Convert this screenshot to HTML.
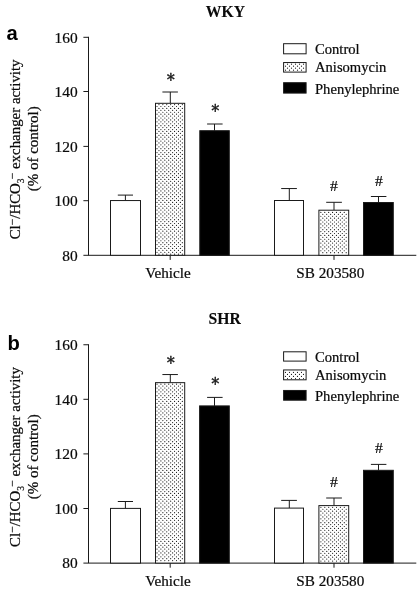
<!DOCTYPE html>
<html><head><meta charset="utf-8"><title>Cl-/HCO3- exchanger activity</title>
<style>
html,body{margin:0;padding:0;background:#fff;}
svg{display:block;will-change:transform;}
.t{font-family:"Liberation Serif","Times New Roman",serif;font-size:14.6px;fill:#0a0a0a;stroke:#0a0a0a;stroke-width:0.22px;}
.tk{font-size:15.4px;}
.xl{font-size:15.2px;}
.b{font-weight:bold;font-size:15.7px;stroke-width:0.1px;}
.lab{font-family:"Liberation Sans",Arial,sans-serif;font-weight:bold;font-size:20.2px;fill:#000;}
.ast{font-family:"DejaVu Serif","Liberation Serif",serif;fill:#111;stroke:#111;stroke-width:0.4px;}
.ln{stroke:#1a1a1a;stroke-width:1;}
path.ln{fill:none;}
.dots{stroke:#222;stroke-width:1.22;stroke-linecap:round;fill:none;}
.sup{font-size:11.5px;}
.sub{font-size:9.5px;}
.y1{font-size:14.9px;}
.y2{font-size:15px;}
.sym{font-size:15.6px;}
</style></head>
<body>
<svg width="420" height="592" viewBox="0 0 420 592">
<rect width="420" height="592" fill="#fff"/>
<g>
<text x="225.4" y="16.50" class="t b" text-anchor="middle">WKY</text>
<text x="6.5" y="39.80" class="lab">a</text>
<path class="ln" d="M88.5 36.80V255.30M83.4 255.30H416.3"/>
<text x="77.6" y="260.60" class="t tk" text-anchor="end">80</text>
<path class="ln" d="M83.4 200.70H88.5"/>
<text x="77.6" y="206.00" class="t tk" text-anchor="end">100</text>
<path class="ln" d="M83.4 146.40H88.5"/>
<text x="77.6" y="151.70" class="t tk" text-anchor="end">120</text>
<path class="ln" d="M83.4 91.50H88.5"/>
<text x="77.6" y="96.80" class="t tk" text-anchor="end">140</text>
<path class="ln" d="M83.4 37.30H88.5"/>
<text x="77.6" y="42.60" class="t tk" text-anchor="end">160</text>
<path class="ln" d="M170.2 255.30V259.90"/>
<path class="ln" d="M334.0 255.30V259.90"/>
<text x="167.9" y="278.20" class="t xl" text-anchor="middle">Vehicle</text>
<text x="330.3" y="278.20" class="t xl" text-anchor="middle">SB 203580</text>
<path class="ln" d="M125.4 200.55V195.10M117.8 195.10H133.0"/>
<rect class="ln" x="110.50" y="200.55" width="30.00" height="54.75" fill="#fff"/>
<path class="ln" d="M170.3 103.30V92.00M162.4 92.00H177.9"/>
<rect class="ln" x="155.50" y="103.30" width="29.20" height="152.00" fill="#fff"/>
<path class="ln" d="M214.5 130.70V124.00M207.1 124.00H222.6"/>
<rect class="ln" x="199.80" y="130.70" width="29.50" height="124.60" fill="#000"/>
<path class="ln" d="M289.3 200.50V188.55M281.2 188.55H296.9"/>
<rect class="ln" x="274.50" y="200.50" width="29.00" height="54.80" fill="#fff"/>
<path class="ln" d="M334.0 210.20V202.30M326.2 202.30H341.9"/>
<rect class="ln" x="318.90" y="210.20" width="29.80" height="45.10" fill="#fff"/>
<path class="ln" d="M378.5 202.50V196.50M370.9 196.50H386.4"/>
<rect class="ln" x="363.50" y="202.50" width="29.80" height="52.80" fill="#000"/>
<text transform="translate(170.7 86.05) scale(0.88 1)" class="ast" font-size="17.4" text-anchor="middle">*</text>
<text transform="translate(215.2 117.05) scale(0.88 1)" class="ast" font-size="17.4" text-anchor="middle">*</text>
<text x="334" y="190.85" class="t sym" text-anchor="middle">#</text>
<text x="378.9" y="185.95" class="t sym" text-anchor="middle">#</text>
<rect class="ln" x="283.6" y="43.70" width="22.5" height="10.10" fill="#fff"/>
<text x="315" y="54.40" class="t">Control</text>
<rect class="ln" x="283.6" y="62.55" width="22.5" height="9.55" fill="#fff"/>
<text x="315" y="72.40" class="t">Anisomycin</text>
<rect class="ln" x="283.6" y="82.70" width="22.5" height="10.40" fill="#000"/>
<text x="315" y="93.70" class="t">Phenylephrine</text>
<text transform="translate(19.6 149.40) rotate(-90)" class="t y1" text-anchor="middle">Cl<tspan class="sup" dy="-3.9">−</tspan><tspan dy="3.9">/HCO</tspan><tspan class="sub" dy="4">3</tspan><tspan class="sup" dx="-0.8" dy="-7.4">−</tspan><tspan dy="3.4"> exchanger activity</tspan></text>
<text transform="translate(37.7 148.85) rotate(-90)" class="t y2" text-anchor="middle">(% of control)</text>
</g>
<g>
<text x="224.7" y="324.00" class="t b" text-anchor="middle">SHR</text>
<text x="7.4" y="349.90" class="lab">b</text>
<path class="ln" d="M88.5 344.26V563.10M83.4 563.10H416.3"/>
<text x="77.6" y="568.40" class="t tk" text-anchor="end">80</text>
<path class="ln" d="M83.4 508.50H88.5"/>
<text x="77.6" y="513.80" class="t tk" text-anchor="end">100</text>
<path class="ln" d="M83.4 453.90H88.5"/>
<text x="77.6" y="459.20" class="t tk" text-anchor="end">120</text>
<path class="ln" d="M83.4 399.30H88.5"/>
<text x="77.6" y="404.60" class="t tk" text-anchor="end">140</text>
<path class="ln" d="M83.4 344.76H88.5"/>
<text x="77.6" y="350.06" class="t tk" text-anchor="end">160</text>
<path class="ln" d="M170.2 563.10V567.70"/>
<path class="ln" d="M334.0 563.10V567.70"/>
<text x="167.9" y="585.90" class="t xl" text-anchor="middle">Vehicle</text>
<text x="330.3" y="585.90" class="t xl" text-anchor="middle">SB 203580</text>
<path class="ln" d="M125.4 508.40V501.50M117.8 501.50H133.0"/>
<rect class="ln" x="110.50" y="508.40" width="30.00" height="54.70" fill="#fff"/>
<path class="ln" d="M170.3 382.65V374.55M162.4 374.55H177.9"/>
<rect class="ln" x="155.50" y="382.65" width="29.20" height="180.45" fill="#fff"/>
<path class="ln" d="M214.5 405.90V397.40M207.1 397.40H222.6"/>
<rect class="ln" x="199.60" y="405.90" width="29.70" height="157.20" fill="#000"/>
<path class="ln" d="M289.3 508.10V500.40M281.2 500.40H296.9"/>
<rect class="ln" x="274.50" y="508.10" width="29.00" height="55.00" fill="#fff"/>
<path class="ln" d="M334.0 505.60V498.00M326.2 498.00H341.9"/>
<rect class="ln" x="318.90" y="505.60" width="29.80" height="57.50" fill="#fff"/>
<path class="ln" d="M378.5 470.30V464.40M370.9 464.40H386.4"/>
<rect class="ln" x="363.50" y="470.30" width="29.80" height="92.80" fill="#000"/>
<text transform="translate(170.7 368.95) scale(0.88 1)" class="ast" font-size="17.4" text-anchor="middle">*</text>
<text transform="translate(215.2 390.25) scale(0.88 1)" class="ast" font-size="17.4" text-anchor="middle">*</text>
<text x="334" y="486.85" class="t sym" text-anchor="middle">#</text>
<text x="379" y="453.15" class="t sym" text-anchor="middle">#</text>
<rect class="ln" x="283.6" y="351.80" width="22.5" height="9.30" fill="#fff"/>
<text x="315" y="361.70" class="t">Control</text>
<rect class="ln" x="283.6" y="369.95" width="22.5" height="9.85" fill="#fff"/>
<text x="315" y="380.40" class="t">Anisomycin</text>
<rect class="ln" x="283.6" y="390.45" width="22.5" height="9.75" fill="#000"/>
<text x="315" y="400.70" class="t">Phenylephrine</text>
<text transform="translate(19.6 457.00) rotate(-90)" class="t y1" text-anchor="middle">Cl<tspan class="sup" dy="-3.9">−</tspan><tspan dy="3.9">/HCO</tspan><tspan class="sub" dy="4">3</tspan><tspan class="sup" dx="-0.8" dy="-7.4">−</tspan><tspan dy="3.4"> exchanger activity</tspan></text>
<text transform="translate(37.7 456.75) rotate(-90)" class="t y2" text-anchor="middle">(% of control)</text>
</g>
<path class="dots" d="M158.95 104.58h.01M162.85 104.58h.01M166.75 104.58h.01M170.65 104.58h.01M174.55 104.58h.01M178.45 104.58h.01M182.35 104.58h.01M157.00 106.50h.01M160.90 106.50h.01M164.80 106.50h.01M168.70 106.50h.01M172.60 106.50h.01M176.50 106.50h.01M180.40 106.50h.01M158.95 108.42h.01M162.85 108.42h.01M166.75 108.42h.01M170.65 108.42h.01M174.55 108.42h.01M178.45 108.42h.01M182.35 108.42h.01M157.00 110.34h.01M160.90 110.34h.01M164.80 110.34h.01M168.70 110.34h.01M172.60 110.34h.01M176.50 110.34h.01M180.40 110.34h.01M158.95 112.25h.01M162.85 112.25h.01M166.75 112.25h.01M170.65 112.25h.01M174.55 112.25h.01M178.45 112.25h.01M182.35 112.25h.01M157.00 114.17h.01M160.90 114.17h.01M164.80 114.17h.01M168.70 114.17h.01M172.60 114.17h.01M176.50 114.17h.01M180.40 114.17h.01M158.95 116.09h.01M162.85 116.09h.01M166.75 116.09h.01M170.65 116.09h.01M174.55 116.09h.01M178.45 116.09h.01M182.35 116.09h.01M157.00 118.01h.01M160.90 118.01h.01M164.80 118.01h.01M168.70 118.01h.01M172.60 118.01h.01M176.50 118.01h.01M180.40 118.01h.01M158.95 119.93h.01M162.85 119.93h.01M166.75 119.93h.01M170.65 119.93h.01M174.55 119.93h.01M178.45 119.93h.01M182.35 119.93h.01M157.00 121.84h.01M160.90 121.84h.01M164.80 121.84h.01M168.70 121.84h.01M172.60 121.84h.01M176.50 121.84h.01M180.40 121.84h.01M158.95 123.76h.01M162.85 123.76h.01M166.75 123.76h.01M170.65 123.76h.01M174.55 123.76h.01M178.45 123.76h.01M182.35 123.76h.01M157.00 125.68h.01M160.90 125.68h.01M164.80 125.68h.01M168.70 125.68h.01M172.60 125.68h.01M176.50 125.68h.01M180.40 125.68h.01M158.95 127.60h.01M162.85 127.60h.01M166.75 127.60h.01M170.65 127.60h.01M174.55 127.60h.01M178.45 127.60h.01M182.35 127.60h.01M157.00 129.52h.01M160.90 129.52h.01M164.80 129.52h.01M168.70 129.52h.01M172.60 129.52h.01M176.50 129.52h.01M180.40 129.52h.01M158.95 131.43h.01M162.85 131.43h.01M166.75 131.43h.01M170.65 131.43h.01M174.55 131.43h.01M178.45 131.43h.01M182.35 131.43h.01M157.00 133.35h.01M160.90 133.35h.01M164.80 133.35h.01M168.70 133.35h.01M172.60 133.35h.01M176.50 133.35h.01M180.40 133.35h.01M158.95 135.27h.01M162.85 135.27h.01M166.75 135.27h.01M170.65 135.27h.01M174.55 135.27h.01M178.45 135.27h.01M182.35 135.27h.01M157.00 137.19h.01M160.90 137.19h.01M164.80 137.19h.01M168.70 137.19h.01M172.60 137.19h.01M176.50 137.19h.01M180.40 137.19h.01M158.95 139.11h.01M162.85 139.11h.01M166.75 139.11h.01M170.65 139.11h.01M174.55 139.11h.01M178.45 139.11h.01M182.35 139.11h.01M157.00 141.02h.01M160.90 141.02h.01M164.80 141.02h.01M168.70 141.02h.01M172.60 141.02h.01M176.50 141.02h.01M180.40 141.02h.01M158.95 142.94h.01M162.85 142.94h.01M166.75 142.94h.01M170.65 142.94h.01M174.55 142.94h.01M178.45 142.94h.01M182.35 142.94h.01M157.00 144.86h.01M160.90 144.86h.01M164.80 144.86h.01M168.70 144.86h.01M172.60 144.86h.01M176.50 144.86h.01M180.40 144.86h.01M158.95 146.78h.01M162.85 146.78h.01M166.75 146.78h.01M170.65 146.78h.01M174.55 146.78h.01M178.45 146.78h.01M182.35 146.78h.01M157.00 148.70h.01M160.90 148.70h.01M164.80 148.70h.01M168.70 148.70h.01M172.60 148.70h.01M176.50 148.70h.01M180.40 148.70h.01M158.95 150.61h.01M162.85 150.61h.01M166.75 150.61h.01M170.65 150.61h.01M174.55 150.61h.01M178.45 150.61h.01M182.35 150.61h.01M157.00 152.53h.01M160.90 152.53h.01M164.80 152.53h.01M168.70 152.53h.01M172.60 152.53h.01M176.50 152.53h.01M180.40 152.53h.01M158.95 154.45h.01M162.85 154.45h.01M166.75 154.45h.01M170.65 154.45h.01M174.55 154.45h.01M178.45 154.45h.01M182.35 154.45h.01M157.00 156.37h.01M160.90 156.37h.01M164.80 156.37h.01M168.70 156.37h.01M172.60 156.37h.01M176.50 156.37h.01M180.40 156.37h.01M158.95 158.29h.01M162.85 158.29h.01M166.75 158.29h.01M170.65 158.29h.01M174.55 158.29h.01M178.45 158.29h.01M182.35 158.29h.01M157.00 160.20h.01M160.90 160.20h.01M164.80 160.20h.01M168.70 160.20h.01M172.60 160.20h.01M176.50 160.20h.01M180.40 160.20h.01M158.95 162.12h.01M162.85 162.12h.01M166.75 162.12h.01M170.65 162.12h.01M174.55 162.12h.01M178.45 162.12h.01M182.35 162.12h.01M157.00 164.04h.01M160.90 164.04h.01M164.80 164.04h.01M168.70 164.04h.01M172.60 164.04h.01M176.50 164.04h.01M180.40 164.04h.01M158.95 165.96h.01M162.85 165.96h.01M166.75 165.96h.01M170.65 165.96h.01M174.55 165.96h.01M178.45 165.96h.01M182.35 165.96h.01M157.00 167.88h.01M160.90 167.88h.01M164.80 167.88h.01M168.70 167.88h.01M172.60 167.88h.01M176.50 167.88h.01M180.40 167.88h.01M158.95 169.79h.01M162.85 169.79h.01M166.75 169.79h.01M170.65 169.79h.01M174.55 169.79h.01M178.45 169.79h.01M182.35 169.79h.01M157.00 171.71h.01M160.90 171.71h.01M164.80 171.71h.01M168.70 171.71h.01M172.60 171.71h.01M176.50 171.71h.01M180.40 171.71h.01M158.95 173.63h.01M162.85 173.63h.01M166.75 173.63h.01M170.65 173.63h.01M174.55 173.63h.01M178.45 173.63h.01M182.35 173.63h.01M157.00 175.55h.01M160.90 175.55h.01M164.80 175.55h.01M168.70 175.55h.01M172.60 175.55h.01M176.50 175.55h.01M180.40 175.55h.01M158.95 177.47h.01M162.85 177.47h.01M166.75 177.47h.01M170.65 177.47h.01M174.55 177.47h.01M178.45 177.47h.01M182.35 177.47h.01M157.00 179.38h.01M160.90 179.38h.01M164.80 179.38h.01M168.70 179.38h.01M172.60 179.38h.01M176.50 179.38h.01M180.40 179.38h.01M158.95 181.30h.01M162.85 181.30h.01M166.75 181.30h.01M170.65 181.30h.01M174.55 181.30h.01M178.45 181.30h.01M182.35 181.30h.01M157.00 183.22h.01M160.90 183.22h.01M164.80 183.22h.01M168.70 183.22h.01M172.60 183.22h.01M176.50 183.22h.01M180.40 183.22h.01M158.95 185.14h.01M162.85 185.14h.01M166.75 185.14h.01M170.65 185.14h.01M174.55 185.14h.01M178.45 185.14h.01M182.35 185.14h.01M157.00 187.06h.01M160.90 187.06h.01M164.80 187.06h.01M168.70 187.06h.01M172.60 187.06h.01M176.50 187.06h.01M180.40 187.06h.01M158.95 188.97h.01M162.85 188.97h.01M166.75 188.97h.01M170.65 188.97h.01M174.55 188.97h.01M178.45 188.97h.01M182.35 188.97h.01M157.00 190.89h.01M160.90 190.89h.01M164.80 190.89h.01M168.70 190.89h.01M172.60 190.89h.01M176.50 190.89h.01M180.40 190.89h.01M158.95 192.81h.01M162.85 192.81h.01M166.75 192.81h.01M170.65 192.81h.01M174.55 192.81h.01M178.45 192.81h.01M182.35 192.81h.01M157.00 194.73h.01M160.90 194.73h.01M164.80 194.73h.01M168.70 194.73h.01M172.60 194.73h.01M176.50 194.73h.01M180.40 194.73h.01M158.95 196.65h.01M162.85 196.65h.01M166.75 196.65h.01M170.65 196.65h.01M174.55 196.65h.01M178.45 196.65h.01M182.35 196.65h.01M157.00 198.56h.01M160.90 198.56h.01M164.80 198.56h.01M168.70 198.56h.01M172.60 198.56h.01M176.50 198.56h.01M180.40 198.56h.01M158.95 200.48h.01M162.85 200.48h.01M166.75 200.48h.01M170.65 200.48h.01M174.55 200.48h.01M178.45 200.48h.01M182.35 200.48h.01M157.00 202.40h.01M160.90 202.40h.01M164.80 202.40h.01M168.70 202.40h.01M172.60 202.40h.01M176.50 202.40h.01M180.40 202.40h.01M158.95 204.32h.01M162.85 204.32h.01M166.75 204.32h.01M170.65 204.32h.01M174.55 204.32h.01M178.45 204.32h.01M182.35 204.32h.01M157.00 206.24h.01M160.90 206.24h.01M164.80 206.24h.01M168.70 206.24h.01M172.60 206.24h.01M176.50 206.24h.01M180.40 206.24h.01M158.95 208.15h.01M162.85 208.15h.01M166.75 208.15h.01M170.65 208.15h.01M174.55 208.15h.01M178.45 208.15h.01M182.35 208.15h.01M157.00 210.07h.01M160.90 210.07h.01M164.80 210.07h.01M168.70 210.07h.01M172.60 210.07h.01M176.50 210.07h.01M180.40 210.07h.01M158.95 211.99h.01M162.85 211.99h.01M166.75 211.99h.01M170.65 211.99h.01M174.55 211.99h.01M178.45 211.99h.01M182.35 211.99h.01M157.00 213.91h.01M160.90 213.91h.01M164.80 213.91h.01M168.70 213.91h.01M172.60 213.91h.01M176.50 213.91h.01M180.40 213.91h.01M158.95 215.83h.01M162.85 215.83h.01M166.75 215.83h.01M170.65 215.83h.01M174.55 215.83h.01M178.45 215.83h.01M182.35 215.83h.01M157.00 217.74h.01M160.90 217.74h.01M164.80 217.74h.01M168.70 217.74h.01M172.60 217.74h.01M176.50 217.74h.01M180.40 217.74h.01M158.95 219.66h.01M162.85 219.66h.01M166.75 219.66h.01M170.65 219.66h.01M174.55 219.66h.01M178.45 219.66h.01M182.35 219.66h.01M157.00 221.58h.01M160.90 221.58h.01M164.80 221.58h.01M168.70 221.58h.01M172.60 221.58h.01M176.50 221.58h.01M180.40 221.58h.01M158.95 223.50h.01M162.85 223.50h.01M166.75 223.50h.01M170.65 223.50h.01M174.55 223.50h.01M178.45 223.50h.01M182.35 223.50h.01M157.00 225.42h.01M160.90 225.42h.01M164.80 225.42h.01M168.70 225.42h.01M172.60 225.42h.01M176.50 225.42h.01M180.40 225.42h.01M158.95 227.33h.01M162.85 227.33h.01M166.75 227.33h.01M170.65 227.33h.01M174.55 227.33h.01M178.45 227.33h.01M182.35 227.33h.01M157.00 229.25h.01M160.90 229.25h.01M164.80 229.25h.01M168.70 229.25h.01M172.60 229.25h.01M176.50 229.25h.01M180.40 229.25h.01M158.95 231.17h.01M162.85 231.17h.01M166.75 231.17h.01M170.65 231.17h.01M174.55 231.17h.01M178.45 231.17h.01M182.35 231.17h.01M157.00 233.09h.01M160.90 233.09h.01M164.80 233.09h.01M168.70 233.09h.01M172.60 233.09h.01M176.50 233.09h.01M180.40 233.09h.01M158.95 235.01h.01M162.85 235.01h.01M166.75 235.01h.01M170.65 235.01h.01M174.55 235.01h.01M178.45 235.01h.01M182.35 235.01h.01M157.00 236.92h.01M160.90 236.92h.01M164.80 236.92h.01M168.70 236.92h.01M172.60 236.92h.01M176.50 236.92h.01M180.40 236.92h.01M158.95 238.84h.01M162.85 238.84h.01M166.75 238.84h.01M170.65 238.84h.01M174.55 238.84h.01M178.45 238.84h.01M182.35 238.84h.01M157.00 240.76h.01M160.90 240.76h.01M164.80 240.76h.01M168.70 240.76h.01M172.60 240.76h.01M176.50 240.76h.01M180.40 240.76h.01M158.95 242.68h.01M162.85 242.68h.01M166.75 242.68h.01M170.65 242.68h.01M174.55 242.68h.01M178.45 242.68h.01M182.35 242.68h.01M157.00 244.60h.01M160.90 244.60h.01M164.80 244.60h.01M168.70 244.60h.01M172.60 244.60h.01M176.50 244.60h.01M180.40 244.60h.01M158.95 246.51h.01M162.85 246.51h.01M166.75 246.51h.01M170.65 246.51h.01M174.55 246.51h.01M178.45 246.51h.01M182.35 246.51h.01M157.00 248.43h.01M160.90 248.43h.01M164.80 248.43h.01M168.70 248.43h.01M172.60 248.43h.01M176.50 248.43h.01M180.40 248.43h.01M158.95 250.35h.01M162.85 250.35h.01M166.75 250.35h.01M170.65 250.35h.01M174.55 250.35h.01M178.45 250.35h.01M182.35 250.35h.01M157.00 252.27h.01M160.90 252.27h.01M164.80 252.27h.01M168.70 252.27h.01M172.60 252.27h.01M176.50 252.27h.01M180.40 252.27h.01M158.95 254.19h.01M162.85 254.19h.01M166.75 254.19h.01M170.65 254.19h.01M174.55 254.19h.01M178.45 254.19h.01M182.35 254.19h.01M320.85 212.40h.01M324.75 212.40h.01M328.65 212.40h.01M332.55 212.40h.01M336.45 212.40h.01M340.35 212.40h.01M344.25 212.40h.01M322.80 214.32h.01M326.70 214.32h.01M330.60 214.32h.01M334.50 214.32h.01M338.40 214.32h.01M342.30 214.32h.01M346.20 214.32h.01M320.85 216.24h.01M324.75 216.24h.01M328.65 216.24h.01M332.55 216.24h.01M336.45 216.24h.01M340.35 216.24h.01M344.25 216.24h.01M322.80 218.16h.01M326.70 218.16h.01M330.60 218.16h.01M334.50 218.16h.01M338.40 218.16h.01M342.30 218.16h.01M346.20 218.16h.01M320.85 220.07h.01M324.75 220.07h.01M328.65 220.07h.01M332.55 220.07h.01M336.45 220.07h.01M340.35 220.07h.01M344.25 220.07h.01M322.80 221.99h.01M326.70 221.99h.01M330.60 221.99h.01M334.50 221.99h.01M338.40 221.99h.01M342.30 221.99h.01M346.20 221.99h.01M320.85 223.91h.01M324.75 223.91h.01M328.65 223.91h.01M332.55 223.91h.01M336.45 223.91h.01M340.35 223.91h.01M344.25 223.91h.01M322.80 225.83h.01M326.70 225.83h.01M330.60 225.83h.01M334.50 225.83h.01M338.40 225.83h.01M342.30 225.83h.01M346.20 225.83h.01M320.85 227.75h.01M324.75 227.75h.01M328.65 227.75h.01M332.55 227.75h.01M336.45 227.75h.01M340.35 227.75h.01M344.25 227.75h.01M322.80 229.66h.01M326.70 229.66h.01M330.60 229.66h.01M334.50 229.66h.01M338.40 229.66h.01M342.30 229.66h.01M346.20 229.66h.01M320.85 231.58h.01M324.75 231.58h.01M328.65 231.58h.01M332.55 231.58h.01M336.45 231.58h.01M340.35 231.58h.01M344.25 231.58h.01M322.80 233.50h.01M326.70 233.50h.01M330.60 233.50h.01M334.50 233.50h.01M338.40 233.50h.01M342.30 233.50h.01M346.20 233.50h.01M320.85 235.42h.01M324.75 235.42h.01M328.65 235.42h.01M332.55 235.42h.01M336.45 235.42h.01M340.35 235.42h.01M344.25 235.42h.01M322.80 237.34h.01M326.70 237.34h.01M330.60 237.34h.01M334.50 237.34h.01M338.40 237.34h.01M342.30 237.34h.01M346.20 237.34h.01M320.85 239.25h.01M324.75 239.25h.01M328.65 239.25h.01M332.55 239.25h.01M336.45 239.25h.01M340.35 239.25h.01M344.25 239.25h.01M322.80 241.17h.01M326.70 241.17h.01M330.60 241.17h.01M334.50 241.17h.01M338.40 241.17h.01M342.30 241.17h.01M346.20 241.17h.01M320.85 243.09h.01M324.75 243.09h.01M328.65 243.09h.01M332.55 243.09h.01M336.45 243.09h.01M340.35 243.09h.01M344.25 243.09h.01M322.80 245.01h.01M326.70 245.01h.01M330.60 245.01h.01M334.50 245.01h.01M338.40 245.01h.01M342.30 245.01h.01M346.20 245.01h.01M320.85 246.93h.01M324.75 246.93h.01M328.65 246.93h.01M332.55 246.93h.01M336.45 246.93h.01M340.35 246.93h.01M344.25 246.93h.01M322.80 248.84h.01M326.70 248.84h.01M330.60 248.84h.01M334.50 248.84h.01M338.40 248.84h.01M342.30 248.84h.01M346.20 248.84h.01M320.85 250.76h.01M324.75 250.76h.01M328.65 250.76h.01M332.55 250.76h.01M336.45 250.76h.01M340.35 250.76h.01M344.25 250.76h.01M322.80 252.68h.01M326.70 252.68h.01M330.60 252.68h.01M334.50 252.68h.01M338.40 252.68h.01M342.30 252.68h.01M346.20 252.68h.01M287.50 64.15h.01M291.50 64.15h.01M295.50 64.15h.01M299.50 64.15h.01M303.50 64.15h.01M285.50 66.15h.01M289.50 66.15h.01M293.50 66.15h.01M297.50 66.15h.01M301.50 66.15h.01M287.50 68.15h.01M291.50 68.15h.01M295.50 68.15h.01M299.50 68.15h.01M303.50 68.15h.01M285.50 70.15h.01M289.50 70.15h.01M293.50 70.15h.01M297.50 70.15h.01M301.50 70.15h.01M157.00 384.16h.01M160.90 384.16h.01M164.80 384.16h.01M168.70 384.16h.01M172.60 384.16h.01M176.50 384.16h.01M180.40 384.16h.01M158.95 386.07h.01M162.85 386.07h.01M166.75 386.07h.01M170.65 386.07h.01M174.55 386.07h.01M178.45 386.07h.01M182.35 386.07h.01M157.00 387.99h.01M160.90 387.99h.01M164.80 387.99h.01M168.70 387.99h.01M172.60 387.99h.01M176.50 387.99h.01M180.40 387.99h.01M158.95 389.91h.01M162.85 389.91h.01M166.75 389.91h.01M170.65 389.91h.01M174.55 389.91h.01M178.45 389.91h.01M182.35 389.91h.01M157.00 391.83h.01M160.90 391.83h.01M164.80 391.83h.01M168.70 391.83h.01M172.60 391.83h.01M176.50 391.83h.01M180.40 391.83h.01M158.95 393.75h.01M162.85 393.75h.01M166.75 393.75h.01M170.65 393.75h.01M174.55 393.75h.01M178.45 393.75h.01M182.35 393.75h.01M157.00 395.66h.01M160.90 395.66h.01M164.80 395.66h.01M168.70 395.66h.01M172.60 395.66h.01M176.50 395.66h.01M180.40 395.66h.01M158.95 397.58h.01M162.85 397.58h.01M166.75 397.58h.01M170.65 397.58h.01M174.55 397.58h.01M178.45 397.58h.01M182.35 397.58h.01M157.00 399.50h.01M160.90 399.50h.01M164.80 399.50h.01M168.70 399.50h.01M172.60 399.50h.01M176.50 399.50h.01M180.40 399.50h.01M158.95 401.42h.01M162.85 401.42h.01M166.75 401.42h.01M170.65 401.42h.01M174.55 401.42h.01M178.45 401.42h.01M182.35 401.42h.01M157.00 403.34h.01M160.90 403.34h.01M164.80 403.34h.01M168.70 403.34h.01M172.60 403.34h.01M176.50 403.34h.01M180.40 403.34h.01M158.95 405.25h.01M162.85 405.25h.01M166.75 405.25h.01M170.65 405.25h.01M174.55 405.25h.01M178.45 405.25h.01M182.35 405.25h.01M157.00 407.17h.01M160.90 407.17h.01M164.80 407.17h.01M168.70 407.17h.01M172.60 407.17h.01M176.50 407.17h.01M180.40 407.17h.01M158.95 409.09h.01M162.85 409.09h.01M166.75 409.09h.01M170.65 409.09h.01M174.55 409.09h.01M178.45 409.09h.01M182.35 409.09h.01M157.00 411.01h.01M160.90 411.01h.01M164.80 411.01h.01M168.70 411.01h.01M172.60 411.01h.01M176.50 411.01h.01M180.40 411.01h.01M158.95 412.93h.01M162.85 412.93h.01M166.75 412.93h.01M170.65 412.93h.01M174.55 412.93h.01M178.45 412.93h.01M182.35 412.93h.01M157.00 414.84h.01M160.90 414.84h.01M164.80 414.84h.01M168.70 414.84h.01M172.60 414.84h.01M176.50 414.84h.01M180.40 414.84h.01M158.95 416.76h.01M162.85 416.76h.01M166.75 416.76h.01M170.65 416.76h.01M174.55 416.76h.01M178.45 416.76h.01M182.35 416.76h.01M157.00 418.68h.01M160.90 418.68h.01M164.80 418.68h.01M168.70 418.68h.01M172.60 418.68h.01M176.50 418.68h.01M180.40 418.68h.01M158.95 420.60h.01M162.85 420.60h.01M166.75 420.60h.01M170.65 420.60h.01M174.55 420.60h.01M178.45 420.60h.01M182.35 420.60h.01M157.00 422.52h.01M160.90 422.52h.01M164.80 422.52h.01M168.70 422.52h.01M172.60 422.52h.01M176.50 422.52h.01M180.40 422.52h.01M158.95 424.43h.01M162.85 424.43h.01M166.75 424.43h.01M170.65 424.43h.01M174.55 424.43h.01M178.45 424.43h.01M182.35 424.43h.01M157.00 426.35h.01M160.90 426.35h.01M164.80 426.35h.01M168.70 426.35h.01M172.60 426.35h.01M176.50 426.35h.01M180.40 426.35h.01M158.95 428.27h.01M162.85 428.27h.01M166.75 428.27h.01M170.65 428.27h.01M174.55 428.27h.01M178.45 428.27h.01M182.35 428.27h.01M157.00 430.19h.01M160.90 430.19h.01M164.80 430.19h.01M168.70 430.19h.01M172.60 430.19h.01M176.50 430.19h.01M180.40 430.19h.01M158.95 432.11h.01M162.85 432.11h.01M166.75 432.11h.01M170.65 432.11h.01M174.55 432.11h.01M178.45 432.11h.01M182.35 432.11h.01M157.00 434.02h.01M160.90 434.02h.01M164.80 434.02h.01M168.70 434.02h.01M172.60 434.02h.01M176.50 434.02h.01M180.40 434.02h.01M158.95 435.94h.01M162.85 435.94h.01M166.75 435.94h.01M170.65 435.94h.01M174.55 435.94h.01M178.45 435.94h.01M182.35 435.94h.01M157.00 437.86h.01M160.90 437.86h.01M164.80 437.86h.01M168.70 437.86h.01M172.60 437.86h.01M176.50 437.86h.01M180.40 437.86h.01M158.95 439.78h.01M162.85 439.78h.01M166.75 439.78h.01M170.65 439.78h.01M174.55 439.78h.01M178.45 439.78h.01M182.35 439.78h.01M157.00 441.70h.01M160.90 441.70h.01M164.80 441.70h.01M168.70 441.70h.01M172.60 441.70h.01M176.50 441.70h.01M180.40 441.70h.01M158.95 443.61h.01M162.85 443.61h.01M166.75 443.61h.01M170.65 443.61h.01M174.55 443.61h.01M178.45 443.61h.01M182.35 443.61h.01M157.00 445.53h.01M160.90 445.53h.01M164.80 445.53h.01M168.70 445.53h.01M172.60 445.53h.01M176.50 445.53h.01M180.40 445.53h.01M158.95 447.45h.01M162.85 447.45h.01M166.75 447.45h.01M170.65 447.45h.01M174.55 447.45h.01M178.45 447.45h.01M182.35 447.45h.01M157.00 449.37h.01M160.90 449.37h.01M164.80 449.37h.01M168.70 449.37h.01M172.60 449.37h.01M176.50 449.37h.01M180.40 449.37h.01M158.95 451.29h.01M162.85 451.29h.01M166.75 451.29h.01M170.65 451.29h.01M174.55 451.29h.01M178.45 451.29h.01M182.35 451.29h.01M157.00 453.20h.01M160.90 453.20h.01M164.80 453.20h.01M168.70 453.20h.01M172.60 453.20h.01M176.50 453.20h.01M180.40 453.20h.01M158.95 455.12h.01M162.85 455.12h.01M166.75 455.12h.01M170.65 455.12h.01M174.55 455.12h.01M178.45 455.12h.01M182.35 455.12h.01M157.00 457.04h.01M160.90 457.04h.01M164.80 457.04h.01M168.70 457.04h.01M172.60 457.04h.01M176.50 457.04h.01M180.40 457.04h.01M158.95 458.96h.01M162.85 458.96h.01M166.75 458.96h.01M170.65 458.96h.01M174.55 458.96h.01M178.45 458.96h.01M182.35 458.96h.01M157.00 460.88h.01M160.90 460.88h.01M164.80 460.88h.01M168.70 460.88h.01M172.60 460.88h.01M176.50 460.88h.01M180.40 460.88h.01M158.95 462.79h.01M162.85 462.79h.01M166.75 462.79h.01M170.65 462.79h.01M174.55 462.79h.01M178.45 462.79h.01M182.35 462.79h.01M157.00 464.71h.01M160.90 464.71h.01M164.80 464.71h.01M168.70 464.71h.01M172.60 464.71h.01M176.50 464.71h.01M180.40 464.71h.01M158.95 466.63h.01M162.85 466.63h.01M166.75 466.63h.01M170.65 466.63h.01M174.55 466.63h.01M178.45 466.63h.01M182.35 466.63h.01M157.00 468.55h.01M160.90 468.55h.01M164.80 468.55h.01M168.70 468.55h.01M172.60 468.55h.01M176.50 468.55h.01M180.40 468.55h.01M158.95 470.47h.01M162.85 470.47h.01M166.75 470.47h.01M170.65 470.47h.01M174.55 470.47h.01M178.45 470.47h.01M182.35 470.47h.01M157.00 472.38h.01M160.90 472.38h.01M164.80 472.38h.01M168.70 472.38h.01M172.60 472.38h.01M176.50 472.38h.01M180.40 472.38h.01M158.95 474.30h.01M162.85 474.30h.01M166.75 474.30h.01M170.65 474.30h.01M174.55 474.30h.01M178.45 474.30h.01M182.35 474.30h.01M157.00 476.22h.01M160.90 476.22h.01M164.80 476.22h.01M168.70 476.22h.01M172.60 476.22h.01M176.50 476.22h.01M180.40 476.22h.01M158.95 478.14h.01M162.85 478.14h.01M166.75 478.14h.01M170.65 478.14h.01M174.55 478.14h.01M178.45 478.14h.01M182.35 478.14h.01M157.00 480.06h.01M160.90 480.06h.01M164.80 480.06h.01M168.70 480.06h.01M172.60 480.06h.01M176.50 480.06h.01M180.40 480.06h.01M158.95 481.97h.01M162.85 481.97h.01M166.75 481.97h.01M170.65 481.97h.01M174.55 481.97h.01M178.45 481.97h.01M182.35 481.97h.01M157.00 483.89h.01M160.90 483.89h.01M164.80 483.89h.01M168.70 483.89h.01M172.60 483.89h.01M176.50 483.89h.01M180.40 483.89h.01M158.95 485.81h.01M162.85 485.81h.01M166.75 485.81h.01M170.65 485.81h.01M174.55 485.81h.01M178.45 485.81h.01M182.35 485.81h.01M157.00 487.73h.01M160.90 487.73h.01M164.80 487.73h.01M168.70 487.73h.01M172.60 487.73h.01M176.50 487.73h.01M180.40 487.73h.01M158.95 489.65h.01M162.85 489.65h.01M166.75 489.65h.01M170.65 489.65h.01M174.55 489.65h.01M178.45 489.65h.01M182.35 489.65h.01M157.00 491.56h.01M160.90 491.56h.01M164.80 491.56h.01M168.70 491.56h.01M172.60 491.56h.01M176.50 491.56h.01M180.40 491.56h.01M158.95 493.48h.01M162.85 493.48h.01M166.75 493.48h.01M170.65 493.48h.01M174.55 493.48h.01M178.45 493.48h.01M182.35 493.48h.01M157.00 495.40h.01M160.90 495.40h.01M164.80 495.40h.01M168.70 495.40h.01M172.60 495.40h.01M176.50 495.40h.01M180.40 495.40h.01M158.95 497.32h.01M162.85 497.32h.01M166.75 497.32h.01M170.65 497.32h.01M174.55 497.32h.01M178.45 497.32h.01M182.35 497.32h.01M157.00 499.24h.01M160.90 499.24h.01M164.80 499.24h.01M168.70 499.24h.01M172.60 499.24h.01M176.50 499.24h.01M180.40 499.24h.01M158.95 501.15h.01M162.85 501.15h.01M166.75 501.15h.01M170.65 501.15h.01M174.55 501.15h.01M178.45 501.15h.01M182.35 501.15h.01M157.00 503.07h.01M160.90 503.07h.01M164.80 503.07h.01M168.70 503.07h.01M172.60 503.07h.01M176.50 503.07h.01M180.40 503.07h.01M158.95 504.99h.01M162.85 504.99h.01M166.75 504.99h.01M170.65 504.99h.01M174.55 504.99h.01M178.45 504.99h.01M182.35 504.99h.01M157.00 506.91h.01M160.90 506.91h.01M164.80 506.91h.01M168.70 506.91h.01M172.60 506.91h.01M176.50 506.91h.01M180.40 506.91h.01M158.95 508.83h.01M162.85 508.83h.01M166.75 508.83h.01M170.65 508.83h.01M174.55 508.83h.01M178.45 508.83h.01M182.35 508.83h.01M157.00 510.74h.01M160.90 510.74h.01M164.80 510.74h.01M168.70 510.74h.01M172.60 510.74h.01M176.50 510.74h.01M180.40 510.74h.01M158.95 512.66h.01M162.85 512.66h.01M166.75 512.66h.01M170.65 512.66h.01M174.55 512.66h.01M178.45 512.66h.01M182.35 512.66h.01M157.00 514.58h.01M160.90 514.58h.01M164.80 514.58h.01M168.70 514.58h.01M172.60 514.58h.01M176.50 514.58h.01M180.40 514.58h.01M158.95 516.50h.01M162.85 516.50h.01M166.75 516.50h.01M170.65 516.50h.01M174.55 516.50h.01M178.45 516.50h.01M182.35 516.50h.01M157.00 518.42h.01M160.90 518.42h.01M164.80 518.42h.01M168.70 518.42h.01M172.60 518.42h.01M176.50 518.42h.01M180.40 518.42h.01M158.95 520.33h.01M162.85 520.33h.01M166.75 520.33h.01M170.65 520.33h.01M174.55 520.33h.01M178.45 520.33h.01M182.35 520.33h.01M157.00 522.25h.01M160.90 522.25h.01M164.80 522.25h.01M168.70 522.25h.01M172.60 522.25h.01M176.50 522.25h.01M180.40 522.25h.01M158.95 524.17h.01M162.85 524.17h.01M166.75 524.17h.01M170.65 524.17h.01M174.55 524.17h.01M178.45 524.17h.01M182.35 524.17h.01M157.00 526.09h.01M160.90 526.09h.01M164.80 526.09h.01M168.70 526.09h.01M172.60 526.09h.01M176.50 526.09h.01M180.40 526.09h.01M158.95 528.01h.01M162.85 528.01h.01M166.75 528.01h.01M170.65 528.01h.01M174.55 528.01h.01M178.45 528.01h.01M182.35 528.01h.01M157.00 529.92h.01M160.90 529.92h.01M164.80 529.92h.01M168.70 529.92h.01M172.60 529.92h.01M176.50 529.92h.01M180.40 529.92h.01M158.95 531.84h.01M162.85 531.84h.01M166.75 531.84h.01M170.65 531.84h.01M174.55 531.84h.01M178.45 531.84h.01M182.35 531.84h.01M157.00 533.76h.01M160.90 533.76h.01M164.80 533.76h.01M168.70 533.76h.01M172.60 533.76h.01M176.50 533.76h.01M180.40 533.76h.01M158.95 535.68h.01M162.85 535.68h.01M166.75 535.68h.01M170.65 535.68h.01M174.55 535.68h.01M178.45 535.68h.01M182.35 535.68h.01M157.00 537.60h.01M160.90 537.60h.01M164.80 537.60h.01M168.70 537.60h.01M172.60 537.60h.01M176.50 537.60h.01M180.40 537.60h.01M158.95 539.51h.01M162.85 539.51h.01M166.75 539.51h.01M170.65 539.51h.01M174.55 539.51h.01M178.45 539.51h.01M182.35 539.51h.01M157.00 541.43h.01M160.90 541.43h.01M164.80 541.43h.01M168.70 541.43h.01M172.60 541.43h.01M176.50 541.43h.01M180.40 541.43h.01M158.95 543.35h.01M162.85 543.35h.01M166.75 543.35h.01M170.65 543.35h.01M174.55 543.35h.01M178.45 543.35h.01M182.35 543.35h.01M157.00 545.27h.01M160.90 545.27h.01M164.80 545.27h.01M168.70 545.27h.01M172.60 545.27h.01M176.50 545.27h.01M180.40 545.27h.01M158.95 547.19h.01M162.85 547.19h.01M166.75 547.19h.01M170.65 547.19h.01M174.55 547.19h.01M178.45 547.19h.01M182.35 547.19h.01M157.00 549.10h.01M160.90 549.10h.01M164.80 549.10h.01M168.70 549.10h.01M172.60 549.10h.01M176.50 549.10h.01M180.40 549.10h.01M158.95 551.02h.01M162.85 551.02h.01M166.75 551.02h.01M170.65 551.02h.01M174.55 551.02h.01M178.45 551.02h.01M182.35 551.02h.01M157.00 552.94h.01M160.90 552.94h.01M164.80 552.94h.01M168.70 552.94h.01M172.60 552.94h.01M176.50 552.94h.01M180.40 552.94h.01M158.95 554.86h.01M162.85 554.86h.01M166.75 554.86h.01M170.65 554.86h.01M174.55 554.86h.01M178.45 554.86h.01M182.35 554.86h.01M157.00 556.78h.01M160.90 556.78h.01M164.80 556.78h.01M168.70 556.78h.01M172.60 556.78h.01M176.50 556.78h.01M180.40 556.78h.01M158.95 558.69h.01M162.85 558.69h.01M166.75 558.69h.01M170.65 558.69h.01M174.55 558.69h.01M178.45 558.69h.01M182.35 558.69h.01M157.00 560.61h.01M160.90 560.61h.01M164.80 560.61h.01M168.70 560.61h.01M172.60 560.61h.01M176.50 560.61h.01M180.40 560.61h.01M320.90 507.32h.01M324.80 507.32h.01M328.70 507.32h.01M332.60 507.32h.01M336.50 507.32h.01M340.40 507.32h.01M344.30 507.32h.01M322.85 509.24h.01M326.75 509.24h.01M330.65 509.24h.01M334.55 509.24h.01M338.45 509.24h.01M342.35 509.24h.01M346.25 509.24h.01M320.90 511.16h.01M324.80 511.16h.01M328.70 511.16h.01M332.60 511.16h.01M336.50 511.16h.01M340.40 511.16h.01M344.30 511.16h.01M322.85 513.07h.01M326.75 513.07h.01M330.65 513.07h.01M334.55 513.07h.01M338.45 513.07h.01M342.35 513.07h.01M346.25 513.07h.01M320.90 514.99h.01M324.80 514.99h.01M328.70 514.99h.01M332.60 514.99h.01M336.50 514.99h.01M340.40 514.99h.01M344.30 514.99h.01M322.85 516.91h.01M326.75 516.91h.01M330.65 516.91h.01M334.55 516.91h.01M338.45 516.91h.01M342.35 516.91h.01M346.25 516.91h.01M320.90 518.83h.01M324.80 518.83h.01M328.70 518.83h.01M332.60 518.83h.01M336.50 518.83h.01M340.40 518.83h.01M344.30 518.83h.01M322.85 520.75h.01M326.75 520.75h.01M330.65 520.75h.01M334.55 520.75h.01M338.45 520.75h.01M342.35 520.75h.01M346.25 520.75h.01M320.90 522.66h.01M324.80 522.66h.01M328.70 522.66h.01M332.60 522.66h.01M336.50 522.66h.01M340.40 522.66h.01M344.30 522.66h.01M322.85 524.58h.01M326.75 524.58h.01M330.65 524.58h.01M334.55 524.58h.01M338.45 524.58h.01M342.35 524.58h.01M346.25 524.58h.01M320.90 526.50h.01M324.80 526.50h.01M328.70 526.50h.01M332.60 526.50h.01M336.50 526.50h.01M340.40 526.50h.01M344.30 526.50h.01M322.85 528.42h.01M326.75 528.42h.01M330.65 528.42h.01M334.55 528.42h.01M338.45 528.42h.01M342.35 528.42h.01M346.25 528.42h.01M320.90 530.34h.01M324.80 530.34h.01M328.70 530.34h.01M332.60 530.34h.01M336.50 530.34h.01M340.40 530.34h.01M344.30 530.34h.01M322.85 532.25h.01M326.75 532.25h.01M330.65 532.25h.01M334.55 532.25h.01M338.45 532.25h.01M342.35 532.25h.01M346.25 532.25h.01M320.90 534.17h.01M324.80 534.17h.01M328.70 534.17h.01M332.60 534.17h.01M336.50 534.17h.01M340.40 534.17h.01M344.30 534.17h.01M322.85 536.09h.01M326.75 536.09h.01M330.65 536.09h.01M334.55 536.09h.01M338.45 536.09h.01M342.35 536.09h.01M346.25 536.09h.01M320.90 538.01h.01M324.80 538.01h.01M328.70 538.01h.01M332.60 538.01h.01M336.50 538.01h.01M340.40 538.01h.01M344.30 538.01h.01M322.85 539.93h.01M326.75 539.93h.01M330.65 539.93h.01M334.55 539.93h.01M338.45 539.93h.01M342.35 539.93h.01M346.25 539.93h.01M320.90 541.84h.01M324.80 541.84h.01M328.70 541.84h.01M332.60 541.84h.01M336.50 541.84h.01M340.40 541.84h.01M344.30 541.84h.01M322.85 543.76h.01M326.75 543.76h.01M330.65 543.76h.01M334.55 543.76h.01M338.45 543.76h.01M342.35 543.76h.01M346.25 543.76h.01M320.90 545.68h.01M324.80 545.68h.01M328.70 545.68h.01M332.60 545.68h.01M336.50 545.68h.01M340.40 545.68h.01M344.30 545.68h.01M322.85 547.60h.01M326.75 547.60h.01M330.65 547.60h.01M334.55 547.60h.01M338.45 547.60h.01M342.35 547.60h.01M346.25 547.60h.01M320.90 549.52h.01M324.80 549.52h.01M328.70 549.52h.01M332.60 549.52h.01M336.50 549.52h.01M340.40 549.52h.01M344.30 549.52h.01M322.85 551.43h.01M326.75 551.43h.01M330.65 551.43h.01M334.55 551.43h.01M338.45 551.43h.01M342.35 551.43h.01M346.25 551.43h.01M320.90 553.35h.01M324.80 553.35h.01M328.70 553.35h.01M332.60 553.35h.01M336.50 553.35h.01M340.40 553.35h.01M344.30 553.35h.01M322.85 555.27h.01M326.75 555.27h.01M330.65 555.27h.01M334.55 555.27h.01M338.45 555.27h.01M342.35 555.27h.01M346.25 555.27h.01M320.90 557.19h.01M324.80 557.19h.01M328.70 557.19h.01M332.60 557.19h.01M336.50 557.19h.01M340.40 557.19h.01M344.30 557.19h.01M322.85 559.11h.01M326.75 559.11h.01M330.65 559.11h.01M334.55 559.11h.01M338.45 559.11h.01M342.35 559.11h.01M346.25 559.11h.01M320.90 561.02h.01M324.80 561.02h.01M328.70 561.02h.01M332.60 561.02h.01M336.50 561.02h.01M340.40 561.02h.01M344.30 561.02h.01M285.50 372.40h.01M289.50 372.40h.01M293.50 372.40h.01M297.50 372.40h.01M301.50 372.40h.01M287.50 374.44h.01M291.50 374.44h.01M295.50 374.44h.01M299.50 374.44h.01M303.50 374.44h.01M285.50 376.48h.01M289.50 376.48h.01M293.50 376.48h.01M297.50 376.48h.01M301.50 376.48h.01M287.50 378.52h.01M291.50 378.52h.01M295.50 378.52h.01M299.50 378.52h.01M303.50 378.52h.01"/>
</svg>
</body></html>
